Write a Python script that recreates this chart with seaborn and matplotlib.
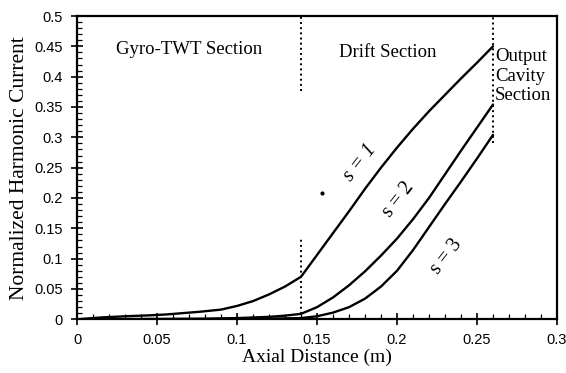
import numpy as np
import matplotlib
matplotlib.use("Agg")
import matplotlib.pyplot as plt
from matplotlib.ticker import MultipleLocator
import seaborn as sns

# harmonic current curves
s1_x = [0, 0.015, 0.03, 0.046, 0.056, 0.077, 0.09, 0.1, 0.11, 0.12, 0.13, 0.14,
        0.15, 0.16, 0.17, 0.18, 0.19, 0.2, 0.21, 0.22, 0.23, 0.24, 0.25, 0.26]
s1_y = [0, 0.003, 0.005, 0.0066, 0.008, 0.0125, 0.016, 0.022, 0.030, 0.041, 0.054, 0.070,
        0.106, 0.142, 0.178, 0.215, 0.250, 0.283, 0.314, 0.343, 0.370, 0.397, 0.423, 0.450]

s2_x = [0, 0.04, 0.08, 0.1, 0.12, 0.13, 0.14, 0.15, 0.16, 0.17, 0.18, 0.19,
        0.2, 0.21, 0.22, 0.23, 0.24, 0.25, 0.26]
s2_y = [0, 0.0005, 0.001, 0.002, 0.004, 0.006, 0.009, 0.020, 0.036, 0.056, 0.079, 0.105,
        0.133, 0.165, 0.200, 0.239, 0.278, 0.316, 0.354]

s3_x = [0, 0.06, 0.1, 0.12, 0.14, 0.15, 0.16, 0.17, 0.18, 0.19, 0.2, 0.21,
        0.22, 0.23, 0.24, 0.25, 0.26]
s3_y = [0, 0.0002, 0.0005, 0.001, 0.002, 0.005, 0.011, 0.020, 0.034, 0.054, 0.080, 0.114,
        0.152, 0.190, 0.227, 0.265, 0.304]

x_ticks = [0, 0.05, 0.1, 0.15, 0.2, 0.25, 0.3]
x_tick_labels = ["0", "0.05", "0.1", "0.15", "0.2", "0.25", "0.3"]
y_ticks = [0, 0.05, 0.1, 0.15, 0.2, 0.25, 0.3, 0.35, 0.4, 0.45, 0.5]
y_tick_labels = ["0", "0.05", "0.1", "0.15", "0.2", "0.25", "0.3", "0.35", "0.4", "0.45", "0.5"]

# section boundaries (x, y_from, y_to) of the dotted markers
section_bounds = [(0.14, 0.377, 0.5), (0.14, 0.0, 0.134), (0.26, 0.29, 0.5)]

sns.set_style("ticks", {"axes.edgecolor": "black", "text.color": "black",
                        "axes.labelcolor": "black"})
serif = "Liberation Serif"
sans = "Liberation Sans"

fig = plt.figure(figsize=(5.66, 3.73), dpi=100)
ax = fig.add_axes([77 / 566, 1 - 319.3 / 373, 480 / 566, 303.3 / 373])

for xs, ys in [(s1_x, s1_y), (s2_x, s2_y), (s3_x, s3_y)]:
    sns.lineplot(x=xs, y=ys, ax=ax, color="black", linewidth=1.7, sort=False)

for xb, y0, y1 in section_bounds:
    ax.plot([xb, xb], [y0, y1], color="black", linestyle=":", linewidth=1.4)

# small stray dot visible in the original figure
ax.plot([0.153], [0.208], marker="o", markersize=2, color="black")

ax.set_xlim(0, 0.3)
ax.set_ylim(0, 0.5)
ax.set_xticks(x_ticks, labels=x_tick_labels, fontfamily=sans, fontsize=10.5)
ax.set_yticks(y_ticks, labels=y_tick_labels, fontfamily=sans, fontsize=10.5)
ax.xaxis.set_minor_locator(MultipleLocator(0.01))
ax.yaxis.set_minor_locator(MultipleLocator(0.01))

for sp in ax.spines.values():
    sp.set_visible(True)
    sp.set_color("black")
    sp.set_linewidth(1.6)

ax.tick_params(which="major", direction="inout", length=8, width=1.2,
               color="black", labelcolor="black", pad=6)
ax.tick_params(which="minor", direction="in", length=3.5, width=0.9, color="black")

ax.set_xlabel("Axial Distance (m)", fontfamily=serif, fontsize=14, labelpad=1,
              color="black")
ax.set_ylabel("Normalized Harmonic Current", fontfamily=serif, fontsize=15.5,
              labelpad=4, color="black")

ax.text(0.07, 0.444, "Gyro-TWT Section", fontfamily=serif, fontsize=13.5,
        ha="center", va="center", color="black")
ax.text(0.194, 0.44, "Drift Section", fontfamily=serif, fontsize=13.5,
        ha="center", va="center", color="black")
ax.text(0.2612, 0.401, "Output\nCavity\nSection", fontfamily=serif, fontsize=13.5,
        ha="left", va="center", linespacing=1.2, color="black")

ax.text(0.177, 0.258, "s = 1", fontfamily=serif, fontsize=14.5, fontstyle="italic",
        rotation=52, ha="center", va="center", color="black")
ax.text(0.201, 0.197, "s = 2", fontfamily=serif, fontsize=14.5,
        rotation=52, ha="center", va="center", color="black")
ax.text(0.231, 0.103, "s = 3", fontfamily=serif, fontsize=14.5,
        rotation=52, ha="center", va="center", color="black")

fig.savefig("out.png", dpi=100)
